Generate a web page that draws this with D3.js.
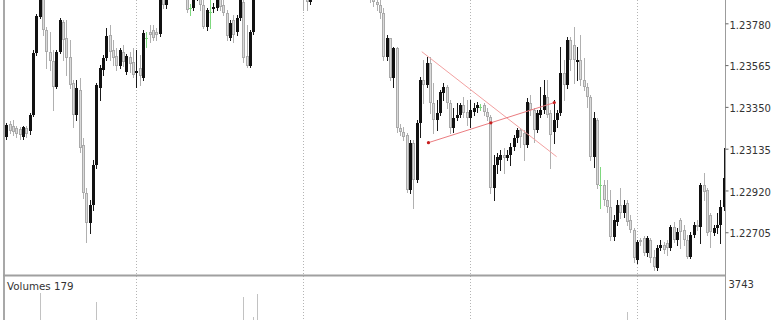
<!DOCTYPE html>
<html lang="en">
<head>
<meta charset="UTF-8">
<title>Candles with volumes</title>
<script src="https://d3js.org/d3.v7.min.js"></script>
<style>
  body { margin: 0; background: #fff; font-family: "DejaVu Sans", sans-serif; }
  svg { display: block; }
  .axis text { font-size: 10px; fill: #333; font-family: "DejaVu Sans", sans-serif; }
</style>
</head>
<body>
<div id="chart"></div>
<script>
// one row per bar: [open, high, low, close]
const candles = [
  [1.23195,1.23267,1.23185,1.23257],[1.23262,1.23277,1.23216,1.23226],[1.23252,1.23283,1.23205,1.23221],
  [1.23241,1.23252,1.23195,1.23211],[1.23236,1.23247,1.23185,1.23205],[1.23195,1.23252,1.23185,1.23247],
  [1.23241,1.23252,1.23195,1.23211],[1.23226,1.23319,1.23211,1.23308],[1.23308,1.23643,1.23303,1.23627],
  [1.23627,1.23828,1.23617,1.23818],[1.23813,1.23962,1.23807,1.23941],[1.23931,1.23951,1.23720,1.23746],
  [1.23746,1.23761,1.23550,1.23632],[1.23632,1.23735,1.23540,1.23586],[1.23586,1.23643,1.23334,1.23452],
  [1.23452,1.23643,1.23447,1.23632],[1.23632,1.23807,1.23627,1.23797],[1.23787,1.23797,1.23591,1.23694],
  [1.23704,1.23797,1.23514,1.23602],[1.23607,1.23694,1.23447,1.23463],[1.23473,1.23488,1.23247,1.23308],
  [1.23308,1.23488,1.23283,1.23447],[1.23437,1.23499,1.23118,1.23139],[1.23154,1.23190,1.22881,1.22907],
  [1.22907,1.22933,1.22655,1.22753],[1.22753,1.22871,1.22701,1.22845],[1.22845,1.23077,1.22820,1.23051],
  [1.23051,1.23473,1.23036,1.23463],[1.23447,1.23566,1.23386,1.23550],[1.23540,1.23617,1.23514,1.23602],
  [1.23602,1.23756,1.23591,1.23715],[1.23720,1.23771,1.23591,1.23632],[1.23643,1.23694,1.23566,1.23602],
  [1.23612,1.23653,1.23540,1.23560],[1.23560,1.23653,1.23550,1.23643],[1.23632,1.23668,1.23560,1.23581],
  [1.23530,1.23622,1.23519,1.23612],[1.23607,1.23632,1.23530,1.23571],[1.23581,1.23653,1.23504,1.23514],
  [1.23524,1.23643,1.23452,1.23535],[1.23550,1.23617,1.23463,1.23509],[1.23499,1.23746,1.23488,1.23730],
  [1.23704,1.23735,1.23658,1.23704],[1.23735,1.23771,1.23684,1.23720],[1.23746,1.23771,1.23694,1.23704],
  [1.23735,1.23756,1.23694,1.23720],[1.23725,1.23931,1.23715,1.23915],[1.23941,1.23951,1.23859,1.23874],
  [1.23874,1.24029,1.23859,1.24003],[1.23977,1.24065,1.23962,1.24044],[1.24029,1.24106,1.24003,1.24080],
  [1.24096,1.24116,1.24013,1.24029],[1.24029,1.24054,1.23951,1.23977],[1.23962,1.24044,1.23941,1.24029],
  [1.23962,1.23977,1.23838,1.23849],[1.23859,1.23879,1.23823,1.23859],[1.23859,1.23941,1.23849,1.23926],
  [1.23926,1.23993,1.23900,1.23977],[1.23951,1.23962,1.23849,1.23874],[1.23874,1.23900,1.23756,1.23761],
  [1.23761,1.23859,1.23746,1.23849],[1.23838,1.23900,1.23756,1.23838],[1.23854,1.23885,1.23838,1.23864],
  [1.23859,1.23915,1.23849,1.23900],[1.23915,1.23926,1.23849,1.23864],[1.23874,1.23900,1.23823,1.23833],
  [1.23833,1.23849,1.23694,1.23715],[1.23704,1.23797,1.23694,1.23782],[1.23797,1.23823,1.23684,1.23720],
  [1.23735,1.23823,1.23720,1.23807],[1.23807,1.23915,1.23797,1.23900],[1.23890,1.23900,1.23581,1.23602],
  [1.23612,1.23771,1.23555,1.23560],[1.23560,1.23746,1.23555,1.23735],[1.23735,1.23941,1.23725,1.23926],
  [1.23926,1.24023,1.23910,1.24003],[1.24003,1.24096,1.23993,1.24080],[1.24080,1.24106,1.23993,1.24013],
  [1.24013,1.24147,1.24003,1.24132],[1.24132,1.24157,1.24034,1.24054],[1.24054,1.24075,1.23972,1.23993],
  [1.23993,1.24126,1.23977,1.24106],[1.24106,1.24188,1.24085,1.24168],[1.24168,1.24183,1.24075,1.24096],
  [1.24096,1.24116,1.24003,1.24029],[1.24029,1.24054,1.23951,1.23977],[1.23977,1.24070,1.23962,1.24054],
  [1.24054,1.24075,1.23962,1.23982],[1.23982,1.24003,1.23921,1.23941],[1.23941,1.23962,1.23849,1.23900],
  [1.23926,1.23941,1.23849,1.23890],[1.23890,1.24023,1.23879,1.24003],[1.24003,1.24096,1.23987,1.24080],
  [1.24080,1.24106,1.24003,1.24029],[1.24029,1.24168,1.24013,1.24147],[1.24147,1.24168,1.24054,1.24080],
  [1.24080,1.24229,1.24065,1.24209],[1.24209,1.24234,1.24106,1.24132],[1.24132,1.24157,1.24034,1.24054],
  [1.24054,1.24183,1.24034,1.24157],[1.24157,1.24178,1.24075,1.24096],[1.24096,1.24116,1.24003,1.24029],
  [1.24029,1.24137,1.24013,1.24116],[1.24116,1.24132,1.24023,1.24044],[1.24044,1.24065,1.23972,1.23993],
  [1.23993,1.24075,1.23977,1.24054],[1.24054,1.24075,1.23982,1.24003],[1.24003,1.24023,1.23941,1.23962],
  [1.23962,1.23993,1.23915,1.23931],[1.23931,1.23962,1.23890,1.23910],[1.23910,1.23941,1.23869,1.23890],
  [1.23890,1.23926,1.23849,1.23874],[1.23874,1.23900,1.23807,1.23833],[1.23833,1.23859,1.23591,1.23607],
  [1.23607,1.23720,1.23591,1.23704],[1.23704,1.23704,1.23488,1.23499],[1.23499,1.23658,1.23452,1.23653],
  [1.23653,1.23658,1.23221,1.23241],[1.23241,1.23262,1.23205,1.23221],[1.23221,1.23247,1.23180,1.23195],
  [1.23205,1.23216,1.22912,1.22922],[1.22922,1.23180,1.22907,1.23164],[1.23164,1.23180,1.22830,1.22974],
  [1.22974,1.23283,1.22964,1.23267],[1.23267,1.23504,1.23195,1.23488],[1.23488,1.23591,1.23370,1.23463],
  [1.23463,1.23607,1.23452,1.23576],[1.23576,1.23607,1.23319,1.23370],[1.23370,1.23473,1.23216,1.23283],
  [1.23283,1.23386,1.23231,1.23319],[1.23319,1.23437,1.23308,1.23427],[1.23422,1.23473,1.23386,1.23452],
  [1.23452,1.23463,1.23344,1.23370],[1.23370,1.23386,1.23216,1.23241],[1.23241,1.23344,1.23221,1.23293],
  [1.23293,1.23370,1.23283,1.23308],[1.23308,1.23370,1.23298,1.23360],[1.23360,1.23401,1.23298,1.23319],
  [1.23324,1.23386,1.23257,1.23293],[1.23293,1.23386,1.23247,1.23334],[1.23324,1.23370,1.23308,1.23344],
  [1.23344,1.23375,1.23324,1.23360],[1.23350,1.23365,1.23334,1.23350],[1.23360,1.23370,1.23308,1.23324],
  [1.23324,1.23344,1.23283,1.23298],[1.23298,1.23308,1.22907,1.22933],[1.22933,1.23103,1.22871,1.23051],
  [1.23051,1.23113,1.23010,1.23092],[1.23077,1.23128,1.23025,1.23103],[1.23103,1.23139,1.23010,1.23087],
  [1.23087,1.23128,1.23077,1.23103],[1.23103,1.23164,1.23051,1.23144],[1.23144,1.23205,1.23128,1.23190],
  [1.23190,1.23241,1.23169,1.23231],[1.23231,1.23241,1.23144,1.23195],[1.23216,1.23231,1.23077,1.23154],
  [1.23154,1.23396,1.23144,1.23375],[1.23370,1.23411,1.23308,1.23334],[1.23334,1.23344,1.23169,1.23231],
  [1.23231,1.23334,1.23221,1.23319],[1.23308,1.23452,1.23298,1.23334],[1.23334,1.23488,1.23319,1.23411],
  [1.23401,1.23488,1.23298,1.23308],[1.23319,1.23334,1.23036,1.23205],[1.23221,1.23386,1.23164,1.23283],
  [1.23283,1.23334,1.23247,1.23319],[1.23319,1.23658,1.23308,1.23524],[1.23524,1.23591,1.23386,1.23463],
  [1.23463,1.23710,1.23447,1.23694],[1.23694,1.23710,1.23540,1.23591],[1.23668,1.23761,1.23473,1.23591],
  [1.23581,1.23658,1.23488,1.23591],[1.23591,1.23720,1.23463,1.23488],[1.23488,1.23602,1.23437,1.23452],
  [1.23452,1.23473,1.23350,1.23401],[1.23401,1.23411,1.23077,1.23092],[1.23092,1.23324,1.23041,1.23293],
  [1.23283,1.23293,1.22933,1.22948],[1.22948,1.23041,1.22830,1.22948],[1.22948,1.22974,1.22845,1.22871],
  [1.22871,1.22974,1.22809,1.22835],[1.22835,1.22922,1.22665,1.22681],[1.22681,1.22794,1.22665,1.22768],
  [1.22758,1.22871,1.22742,1.22845],[1.22845,1.22933,1.22778,1.22804],[1.22804,1.22871,1.22784,1.22845],
  [1.22856,1.22871,1.22742,1.22758],[1.22768,1.22794,1.22706,1.22717],[1.22717,1.22727,1.22552,1.22573],
  [1.22562,1.22665,1.22547,1.22655],[1.22665,1.22676,1.22640,1.22655],[1.22676,1.22686,1.22588,1.22598],
  [1.22598,1.22686,1.22583,1.22676],[1.22665,1.22676,1.22552,1.22573],[1.22578,1.22614,1.22511,1.22526],
  [1.22521,1.22640,1.22511,1.22624],[1.22624,1.22665,1.22614,1.22640],[1.22640,1.22655,1.22598,1.22614],
  [1.22650,1.22665,1.22588,1.22624],[1.22624,1.22742,1.22614,1.22732],[1.22732,1.22758,1.22655,1.22665],
  [1.22665,1.22727,1.22640,1.22706],[1.22768,1.22778,1.22624,1.22706],[1.22717,1.22742,1.22640,1.22665],
  [1.22665,1.22691,1.22573,1.22578],[1.22578,1.22706,1.22573,1.22691],[1.22691,1.22758,1.22681,1.22742],
  [1.22742,1.22768,1.22717,1.22732],[1.22732,1.22958,1.22650,1.22948],[1.22948,1.23010,1.22871,1.22912],
  [1.22922,1.22933,1.22691,1.22701],[1.22794,1.22804,1.22629,1.22706],[1.22701,1.22742,1.22691,1.22727],
  [1.22727,1.22804,1.22701,1.22742],[1.22742,1.22871,1.22650,1.22835],[1.22835,1.23139,1.22820,1.22984]
];

const priceTicks = [1.23780, 1.23565, 1.23350, 1.23135, 1.22920, 1.22705];
const gridBars = [39, 89, 139, 189];

// only the volume bars tall enough to show in the cropped lower panel, plus the last one
const volBars   = [10, 27, 71, 74, 75, 186, 215];
const volValues = [3130, 2780, 2970, 2170, 3080, 2360, 179];
const volMax = 3743;

// trendlines: [bar index, price]
const trendDown = [[124.5, 1.23634], [164.9, 1.23094]];
const trendUp   = [[126.5, 1.23166], [164.2, 1.23372]];
const trendUpPoints = [[126.5, 1.23166], [145.2, 1.23268], [164.2, 1.23372]];

const W = 775, H = 320;
const axisX = 725, mainBottom = 275;

const svg = d3.select("#chart").append("svg")
  .attr("width", W).attr("height", H);

const x = d3.scaleLinear().domain([0, candles.length - 1]).range([6.3, 723.8]);
const y = d3.scaleLinear().domain([1.22485, 1.23900]).range([mainBottom, 0]);
const yVol = d3.scaleLinear().domain([0, volMax]).range([370, 278]);
const px = i => Math.round(x(i));

const defs = svg.append("defs");
defs.append("clipPath").attr("id", "clipMain")
  .append("rect").attr("x", 0).attr("y", 0).attr("width", axisX).attr("height", mainBottom);
defs.append("clipPath").attr("id", "clipVol")
  .append("rect").attr("x", 0).attr("y", 277).attr("width", axisX).attr("height", H - 277);

// vertical dotted grid through both panels
svg.append("g").selectAll("line").data(gridBars).join("line")
  .attr("x1", d => px(d) + 0.5).attr("x2", d => px(d) + 0.5)
  .attr("y1", 0).attr("y2", H)
  .attr("stroke", "#b4b4b4").attr("stroke-dasharray", "1,2")
  .attr("shape-rendering", "crispEdges");

// candles (keep the bar index with each row, filters renumber otherwise)
const rows = candles.map((d, i) => ({ i, o: d[0], h: d[1], l: d[2], c: d[3] }));
const kind = d => d.c > d.o ? "up" : (d.c < d.o ? "down" : "doji");
const wickColor = { up: "#1a1a1a", down: "#b0b0b0", doji: "#7ed87e" };

const main = svg.append("g").attr("clip-path", "url(#clipMain)");
const bar = main.selectAll("g.candle").data(rows).join("g")
  .attr("class", "candle").attr("shape-rendering", "crispEdges");

bar.append("line")
  .attr("x1", d => px(d.i) + 0.5).attr("x2", d => px(d.i) + 0.5)
  .attr("y1", d => Math.round(y(d.h))).attr("y2", d => Math.round(y(d.l)) + 1)
  .attr("stroke", d => wickColor[kind(d)]);

bar.filter(d => kind(d) === "up").append("rect")
  .attr("x", d => px(d.i) - 1).attr("width", 3)
  .attr("y", d => Math.round(y(d.c)))
  .attr("height", d => Math.max(1, Math.round(y(d.o)) - Math.round(y(d.c))))
  .attr("fill", "#111");

bar.filter(d => kind(d) === "down").append("rect")
  .attr("x", d => px(d.i) - 0.5).attr("width", 2)
  .attr("y", d => Math.round(y(d.o)) + 0.5)
  .attr("height", d => Math.max(1, Math.round(y(d.c)) - Math.round(y(d.o)) - 1))
  .attr("fill", "#dadada").attr("stroke", "#aaaaaa");

bar.filter(d => kind(d) === "doji").append("line")
  .attr("x1", d => px(d.i) - 1).attr("x2", d => px(d.i) + 2)
  .attr("y1", d => Math.round(y(d.o)) + 0.5).attr("y2", d => Math.round(y(d.o)) + 0.5)
  .attr("stroke", "#7ed87e");

// trendlines
const tl = svg.append("g").attr("clip-path", "url(#clipMain)");
tl.append("line")
  .attr("x1", x(trendDown[0][0])).attr("y1", y(trendDown[0][1]))
  .attr("x2", x(trendDown[1][0])).attr("y2", y(trendDown[1][1]))
  .attr("stroke", "#f2a0a0").attr("stroke-width", 1);
tl.append("line")
  .attr("x1", x(trendUp[0][0])).attr("y1", y(trendUp[0][1]))
  .attr("x2", x(trendUp[1][0])).attr("y2", y(trendUp[1][1]))
  .attr("stroke", "#ea7c80").attr("stroke-width", 1);
tl.selectAll("circle").data(trendUpPoints).join("circle")
  .attr("cx", d => x(d[0])).attr("cy", d => y(d[1])).attr("r", 1.6)
  .attr("fill", "#c81e1e");

// volumes
svg.append("g").attr("clip-path", "url(#clipVol)")
  .selectAll("line").data(volBars).join("line")
  .attr("x1", d => px(d) + 0.5).attr("x2", d => px(d) + 0.5)
  .attr("y1", (d, k) => Math.round(yVol(volValues[k]))).attr("y2", yVol(0))
  .attr("stroke", "#c2c2c2").attr("shape-rendering", "crispEdges");

// frame
svg.append("rect").attr("x", 3).attr("y", 0).attr("width", 2).attr("height", H).attr("fill", "#a8a8a8");
svg.append("rect").attr("x", 3).attr("y", 274.5).attr("width", axisX - 3).attr("height", 2).attr("fill", "#a0a0a0");
svg.append("line").attr("x1", axisX + 0.5).attr("x2", axisX + 0.5).attr("y1", 0).attr("y2", H)
  .attr("stroke", "#9c9c9c").attr("shape-rendering", "crispEdges");

// price axis
const pAxis = svg.append("g").attr("class", "axis")
  .attr("transform", `translate(${axisX + 0.5},0)`)
  .call(d3.axisRight(y).tickValues(priceTicks).tickFormat(d3.format(".5f")).tickSize(3).tickPadding(1));
pAxis.select(".domain").remove();
pAxis.selectAll(".tick line").attr("stroke", "#666");
pAxis.selectAll(".tick text").attr("dy", "0.47em");

// volume axis
const vAxis = svg.append("g").attr("class", "axis")
  .attr("transform", `translate(${axisX + 0.5},0)`)
  .call(d3.axisRight(yVol).tickValues([volMax]).tickFormat(d3.format("d")).tickSize(0).tickPadding(3));
vAxis.select(".domain").remove();
vAxis.selectAll(".tick text").attr("dy", "0.92em");

svg.append("text")
  .attr("x", 7).attr("y", 290)
  .attr("font-family", "DejaVu Sans, sans-serif").attr("font-size", 10.3).attr("fill", "#333")
  .text(`Volumes ${volValues[volValues.length - 1]}`);
</script>
</body>
</html>
